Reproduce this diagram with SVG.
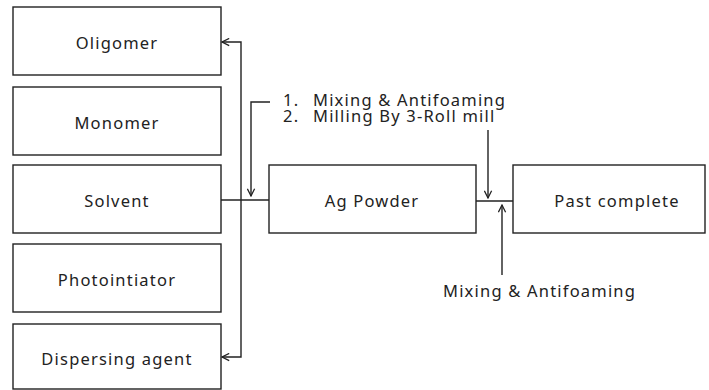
<svg xmlns="http://www.w3.org/2000/svg" width="709" height="390" viewBox="0 0 709 390">
<style>
.box{fill:#fff;stroke:#222;stroke-width:1.4}
.ln{fill:none;stroke:#222;stroke-width:1.4}
text{font-family:"Noto Sans","Open Sans",sans-serif;font-size:16.5px;letter-spacing:1.2px;fill:#222}
.c{text-anchor:middle;dominant-baseline:central}
</style>
<defs>
<marker id="ah" viewBox="0 0 10 10" refX="9" refY="5" markerWidth="9" markerHeight="9" markerUnits="userSpaceOnUse" orient="auto">
<path d="M1,1 L9,5 L1,9" fill="none" stroke="#222" stroke-width="1.4"/>
</marker>
</defs>
<rect width="709" height="390" fill="#fff"/>
<g id="oligomer"><rect class="box" x="13" y="7" width="208" height="68"/><text class="c" x="117" y="42">Oligomer</text></g>
<g id="monomer"><rect class="box" x="13" y="87" width="208" height="68"/><text class="c" x="117" y="122">Monomer</text></g>
<g id="solvent"><rect class="box" x="13" y="165" width="208" height="68"/><text class="c" x="117" y="200">Solvent</text></g>
<g id="photointiator"><rect class="box" x="13" y="244" width="208" height="68"/><text class="c" x="117" y="279">Photointiator</text></g>
<g id="dispersing"><rect class="box" x="13" y="324" width="208" height="65"/><text class="c" x="117" y="358">Dispersing agent</text></g>
<g id="agpowder"><rect class="box" x="269" y="165" width="207" height="68"/><text class="c" x="372" y="200">Ag Powder</text></g>
<g id="past"><rect class="box" x="513" y="165" width="192" height="68"/><text class="c" x="617" y="200">Past complete</text></g>
<g id="labels">
<text x="283" y="106">1.<tspan x="313">Mixing &amp; Antifoaming</tspan></text>
<text x="283" y="122">2.<tspan x="313">Milling By 3-Roll mill</tspan></text>
<text x="443" y="297">Mixing &amp; Antifoaming</text>
</g>
<g id="connectors">
<path class="ln" d="M221,200 H269"/>
<path class="ln" d="M241,200 V42 H222" marker-end="url(#ah)"/>
<path class="ln" d="M241,200 V357 H222" marker-end="url(#ah)"/>
<path class="ln" d="M270,102 H251 V196" marker-end="url(#ah)"/>
<path class="ln" d="M476,201 H513"/>
<path class="ln" d="M488,130 V198" marker-end="url(#ah)"/>
<path class="ln" d="M502,275 V205" marker-end="url(#ah)"/>
</g>
</svg>
